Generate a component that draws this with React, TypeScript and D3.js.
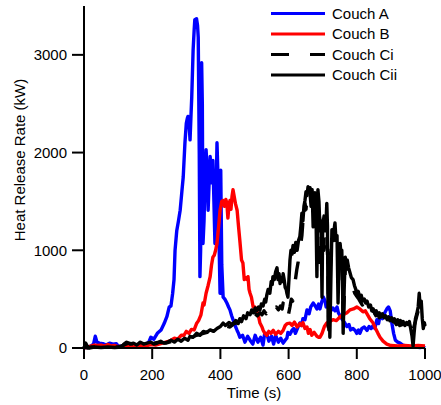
import React from "react";
import * as d3 from "d3";

// ---------- DATA ----------
const seriesNames = ["Couch A", "Couch B", "Couch Ci", "Couch Cii"];
const xTicks = [0, 200, 400, 600, 800, 1000];
const yTicks = [0, 1000, 2000, 3000];

const timesA = [0, 10, 20, 28, 33, 38, 45, 55, 65, 75, 85, 95, 100, 110, 120, 130, 140, 150, 160, 170, 180, 190, 196, 205, 215, 226, 235, 243, 250, 255, 260, 264, 267, 272, 277, 282, 287, 291, 296, 300, 303, 305, 308, 311, 314, 316, 320, 323, 325, 330, 333, 335, 338, 340, 342, 345, 347, 349, 352, 355, 358, 360, 364, 367, 370, 373, 375, 378, 381, 384, 387, 390, 393, 396, 399, 401, 404, 408, 413, 419, 424, 428, 433, 437, 443, 449, 453, 457, 465, 472, 480, 487, 495, 502, 510, 518, 525, 530, 536, 542, 550, 556, 562, 570, 577, 584, 590, 595, 598, 604, 610, 615, 620, 628, 633, 638, 642, 648, 654, 660, 665, 672, 678, 683, 688, 692, 697, 702, 707, 710, 714, 718, 722, 727, 730, 736, 742, 746, 751, 756, 760, 765, 771, 777, 782, 789, 795, 800, 805, 809, 815, 822, 830, 836, 842, 848, 853, 859, 864, 868, 875, 882, 888, 893, 898, 903, 908, 913, 920, 927, 935, 945, 955, 965, 975, 985, 995, 1000];
const valuesA = [0, 10, 20, 40, 120, 60, 50, 45, 30, 50, 40, 45, 20, 15, 20, 25, 20, 30, 25, 40, 30, 60, 110, 90, 150, 185, 250, 320, 420, 430, 560, 700, 1000, 1200, 1300, 1410, 1600, 1750, 2100, 2300, 2350, 2370, 2300, 2130, 2400, 2570, 3050, 3250, 3360, 3370, 3300, 3180, 2000, 730, 1000, 2920, 2500, 1070, 1300, 1750, 2030, 1900, 1410, 1700, 1960, 1750, 1690, 1920, 1500, 1070, 1500, 2100, 1750, 1100, 560, 1820, 850, 520, 500, 460, 420, 390, 330, 290, 230, 180, 150, 110, 130, 60, 120, 80, 40, 130, 60, 110, 30, 150, 150, 70, 120, 40, 130, 60, 100, 50, 80, 100, 160, 140, 180, 200, 150, 220, 255, 230, 300, 290, 390, 350, 420, 460, 430, 400, 450, 400, 470, 520, 480, 420, 460, 400, 420, 390, 410, 380, 420, 360, 330, 300, 280, 255, 220, 240, 185, 200, 180, 150, 185, 150, 200, 215, 180, 220, 200, 230, 200, 290, 250, 330, 300, 360, 400, 420, 380, 250, 150, 80, 60, 50, 30, 20, 10, 15, 10, 5, 10, 0];

const timesB = [0, 10, 20, 30, 40, 50, 60, 70, 80, 90, 100, 110, 120, 130, 140, 150, 160, 170, 180, 190, 200, 210, 220, 230, 240, 250, 255, 265, 275, 285, 293, 300, 308, 315, 323, 330, 336, 343, 349, 352, 358, 364, 370, 374, 378, 382, 386, 390, 395, 399, 404, 408, 412, 416, 419, 422, 425, 428, 431, 434, 437, 440, 444, 449, 453, 457, 462, 466, 470, 474, 478, 481, 484, 487, 491, 496, 501, 507, 512, 516, 522, 525, 530, 536, 542, 548, 555, 562, 570, 577, 584, 590, 596, 604, 610, 617, 625, 633, 638, 642, 648, 654, 658, 663, 668, 675, 683, 688, 692, 698, 705, 712, 720, 730, 740, 751, 760, 771, 780, 790, 800, 809, 818, 825, 830, 838, 848, 855, 862, 868, 877, 888, 900, 920, 940, 960, 980, 1000];
const valuesB = [0, 10, 20, 30, 25, 30, 20, 35, 20, 25, 15, 10, 20, 15, 25, 20, 30, 25, 20, 30, 35, 30, 40, 50, 60, 70, 80, 100, 90, 130, 130, 170, 150, 190, 185, 250, 280, 340, 460, 440, 560, 640, 730, 850, 930, 950, 1000, 1070, 1250, 1410, 1500, 1510, 1450, 1520, 1480, 1330, 1450, 1510, 1420, 1550, 1620, 1560, 1480, 1410, 1250, 1100, 900, 870, 700, 720, 700, 730, 600, 560, 520, 420, 420, 380, 320, 255, 215, 185, 150, 130, 170, 150, 180, 140, 170, 150, 180, 230, 250, 255, 230, 265, 215, 250, 230, 260, 200, 215, 150, 190, 130, 160, 120, 110, 110, 150, 220, 255, 270, 290, 280, 320, 340, 360, 390, 400, 420, 400, 370, 380, 350, 300, 255, 200, 150, 110, 70, 40, 25, 20, 25, 20, 25, 20];

const timesCi = [0, 5, 10, 20, 40, 60, 80, 100, 117, 130, 145, 160, 175, 190, 205, 220, 240, 260, 280, 300, 311, 330, 350, 370, 390, 408, 428, 440, 450, 457, 465, 472, 480, 487, 495, 502, 508, 516, 522, 528, 534, 540, 546, 552, 558, 564, 570, 576, 581, 584, 588, 592, 596, 600, 604, 608, 612, 616, 620, 624, 628, 631, 635, 639, 642, 645, 648, 651, 654, 657, 660, 663, 666, 669, 672, 675, 678, 681, 684, 687, 690, 693, 696, 700, 703, 706, 709, 712, 715, 718, 721, 724, 727, 730, 733, 736, 739, 742, 745, 748, 751, 754, 757, 760, 763, 766, 770, 774, 778, 782, 786, 790, 794, 798, 802, 806, 811, 816, 821, 826, 831, 836, 841, 846, 851, 856, 861, 866, 871, 876, 881, 886, 891, 896, 901, 906, 911, 916, 921, 926, 931, 936, 941, 946, 951, 956, 961, 966, 971, 976, 980, 984, 988, 992, 996, 1000];
const valuesCi = [0, 50, 0, 10, 5, 10, 5, 10, 30, 50, 40, 50, 40, 60, 50, 60, 50, 70, 60, 80, 100, 130, 150, 170, 185, 230, 215, 250, 260, 290, 270, 310, 290, 330, 310, 350, 330, 360, 340, 380, 350, 400, 370, 410, 380, 420, 390, 430, 400, 460, 410, 380, 300, 350, 420, 500, 480, 580, 700, 800, 880, 950, 1050, 1150, 1300, 1250, 1480, 1420, 1550, 1500, 1560, 1580, 1450, 1550, 1620, 1480, 1520, 1400, 1560, 800, 1350, 1280, 1320, 1310, 1000, 1150, 1200, 1140, 900, 185, 700, 970, 1100, 1200, 1100, 1150, 1050, 1000, 1100, 950, 800, 900, 850, 215, 500, 800, 860, 780, 750, 680, 640, 600, 560, 540, 520, 500, 470, 440, 450, 400, 420, 370, 390, 350, 370, 330, 350, 310, 330, 300, 320, 280, 300, 270, 290, 250, 270, 240, 260, 230, 255, 220, 250, 220, 240, 210, 240, 200, 260, 330, 380, 300, 260, 220, 250, 220];

const timesCii = [0, 5, 10, 15, 30, 50, 70, 90, 110, 117, 125, 135, 145, 155, 165, 175, 185, 196, 205, 215, 225, 235, 245, 255, 265, 275, 285, 295, 305, 311, 320, 330, 340, 350, 360, 370, 380, 390, 400, 408, 415, 425, 435, 445, 452, 457, 462, 468, 475, 480, 487, 492, 497, 502, 507, 512, 516, 520, 525, 530, 533, 536, 540, 545, 549, 552, 554, 558, 562, 566, 569, 572, 575, 578, 581, 584, 587, 590, 593, 595, 598, 601, 604, 607, 610, 613, 617, 621, 625, 629, 633, 636, 639, 642, 645, 648, 651, 654, 657, 660, 663, 666, 669, 672, 675, 677, 680, 683, 686, 689, 692, 695, 698, 700, 704, 707, 710, 712, 714, 716, 719, 721, 724, 727, 730, 733, 736, 739, 742, 745, 748, 751, 754, 756, 758, 760, 763, 766, 769, 772, 776, 780, 784, 789, 793, 797, 800, 804, 809, 813, 817, 822, 826, 830, 835, 840, 844, 848, 853, 857, 862, 866, 871, 875, 880, 884, 889, 893, 897, 902, 906, 910, 915, 920, 924, 928, 932, 936, 941, 946, 950, 954, 958, 962, 965, 968, 972, 976, 980, 983, 986, 989, 992, 995, 998, 1000];
const valuesCii = [0, 40, 20, 0, 10, 5, 10, 5, 10, 40, 60, 40, 50, 30, 60, 40, 50, 60, 40, 50, 70, 50, 60, 80, 60, 90, 70, 100, 80, 120, 110, 150, 130, 170, 160, 185, 170, 200, 220, 255, 230, 260, 240, 280, 250, 300, 270, 330, 300, 360, 340, 390, 360, 410, 380, 420, 390, 450, 430, 500, 470, 540, 600, 560, 680, 650, 730, 700, 780, 820, 700, 760, 660, 720, 680, 760, 700, 620, 600, 560, 520, 700, 900, 1000, 960, 1050, 980, 1080, 1000, 1100, 1140, 1250, 1380, 1300, 1450, 1510, 1600, 1560, 1650, 1600, 1640, 1580, 1620, 1240, 1500, 1590, 1450, 730, 1620, 1500, 1200, 1300, 520, 1250, 1350, 1200, 1300, 1480, 1250, 215, 600, 110, 700, 1210, 1150, 1200, 1280, 1100, 1150, 460, 900, 1070, 950, 1000, 700, 150, 600, 930, 880, 900, 820, 770, 720, 700, 640, 600, 560, 580, 520, 540, 480, 500, 460, 480, 420, 440, 380, 400, 350, 380, 340, 360, 320, 350, 310, 330, 290, 320, 280, 310, 270, 300, 260, 290, 250, 280, 240, 270, 230, 260, 240, 270, 200, 120, 20, 150, 300, 350, 420, 560, 420, 480, 300, 200, 260, 230];

const seriesTimes = [timesA, timesB, timesCi, timesCii];
const seriesValues = [valuesA, valuesB, valuesCi, valuesCii];
const seriesColors = ["#0000ff", "#ff0000", "#000000", "#000000"];
const seriesDash = [null, null, "18 21", null];

// ---------- LAYOUT ----------
const W = 441;
const H = 405;
const FONT = "'Liberation Sans', Arial, sans-serif";

export default function App() {
  const x = d3.scaleLinear().domain([0, 1000]).range([84, 425]);
  const y = d3.scaleLinear().domain([0, 3500]).range([348, 6]);

  const lineGen = d3
    .line<[number, number]>()
    .x((d) => x(d[0]))
    .y((d) => y(d[1]));

  const paths = seriesTimes.map((ts, i) =>
    lineGen(ts.map((t, j) => [t, seriesValues[i][j]] as [number, number]))
  );

  const legendY = [13.5, 34, 54.5, 75];

  return (
    <svg
      width={W}
      height={H}
      style={{ position: "absolute", left: 0, top: 0, background: "#fff" }}
      fontFamily={FONT}
    >
      <rect x={0} y={0} width={W} height={H} fill="#fff" />
      {paths.map((p, i) => (
        <path
          key={seriesNames[i]}
          d={p || ""}
          fill="none"
          stroke={seriesColors[i]}
          strokeWidth={3.4}
          strokeLinejoin="round"
          strokeDasharray={seriesDash[i] || undefined}
        />
      ))}

      {/* Y axis */}
      <line x1={x(0)} x2={x(0)} y1={y(3500)} y2={359} stroke="#000" strokeWidth={2} />
      {yTicks.map((t) => (
        <g key={"y" + t}>
          <line x1={72} x2={x(0)} y1={y(t)} y2={y(t)} stroke="#000" strokeWidth={2} />
          <text x={67} y={y(t)} dy="0.35em" textAnchor="end" fontSize={15}>
            {t}
          </text>
        </g>
      ))}

      {/* X axis */}
      <line x1={x(0)} x2={x(1000)} y1={y(0)} y2={y(0)} stroke="#000" strokeWidth={2} />
      {xTicks.map((t) => (
        <g key={"x" + t}>
          <line x1={x(t)} x2={x(t)} y1={y(0)} y2={359} stroke="#000" strokeWidth={2} />
          <text x={x(t)} y={380} textAnchor="middle" fontSize={15}>
            {t}
          </text>
        </g>
      ))}

      <text x={254} y={398} textAnchor="middle" fontSize={15}>
        Time (s)
      </text>
      <text
        transform="translate(25,160) rotate(-90)"
        textAnchor="middle"
        fontSize={15}
      >
        Heat Release Rate (kW)
      </text>

      {/* Legend */}
      {seriesNames.map((n, i) => (
        <g key={"leg" + n}>
          <line
            x1={271}
            x2={325}
            y1={legendY[i]}
            y2={legendY[i]}
            stroke={seriesColors[i]}
            strokeWidth={3}
            strokeDasharray={seriesDash[i] || undefined}
          />
          <text x={332} y={legendY[i]} dy="0.35em" fontSize={15}>
            {n}
          </text>
        </g>
      ))}
    </svg>
  );
}
